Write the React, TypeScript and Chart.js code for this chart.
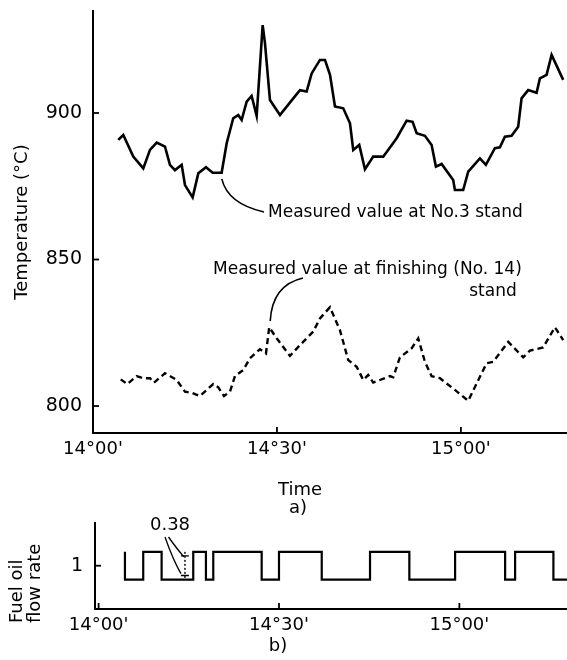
import React, { useEffect, useRef } from "react";
import { Chart, registerables } from "chart.js";
Chart.register(...registerables);

const FONT = '"DejaVu Sans", sans-serif';
const INK = "#000";

// Panel a) — minutes after 14:00 and temperatures (°C)
const stand3Times = [4.12, 4.94, 6.57, 8.2, 9.29, 10.39, 11.74, 12.55, 13.37, 14.46, 15.0, 16.25, 17.17, 18.42, 19.52, 20.98, 21.8, 22.87, 23.69, 24.24, 25.06, 25.87, 26.69, 27.67, 28.04, 28.86, 30.49, 32.66, 33.75, 34.84, 35.66, 37.01, 37.83, 38.65, 39.46, 40.81, 41.91, 42.44, 43.42, 44.35, 45.7, 47.33, 49.52, 51.15, 52.12, 52.78, 54.13, 55.22, 55.92, 56.85, 58.74, 59.02, 60.37, 61.19, 63.1, 64.07, 65.54, 66.36, 67.17, 68.26, 69.34, 69.89, 70.97, 72.34, 72.88, 73.97, 74.79, 76.68];
const stand3Temps = [890.8, 892.5, 885.1, 881.1, 887.4, 889.9, 888.5, 882.3, 880.5, 882.3, 875.4, 871.2, 879.4, 881.5, 879.6, 879.6, 889.7, 898.2, 899.3, 897.6, 903.9, 905.8, 899.0, 930.0, 923.9, 904.4, 899.3, 905.0, 907.8, 907.3, 913.5, 918.1, 918.1, 913.0, 902.2, 901.6, 896.5, 887.4, 889.1, 880.8, 885.1, 885.1, 891.4, 897.4, 897.0, 893.1, 892.2, 889.1, 881.7, 882.6, 877.1, 873.7, 873.7, 880.0, 884.5, 882.3, 888.0, 888.3, 891.9, 892.2, 895.3, 905.0, 907.8, 906.9, 911.8, 913.0, 919.8, 911.3];

const stand14Times = [4.52, 5.59, 7.12, 8.2, 9.29, 9.95, 11.74, 13.65, 15.0, 16.09, 17.45, 19.61, 20.43, 21.36, 22.34, 23.15, 24.51, 25.6, 27.23, 28.21, 28.74, 29.95, 32.12, 33.75, 35.92, 37.01, 38.64, 40.27, 41.62, 42.99, 44.07, 44.88, 45.7, 48.42, 48.96, 50.05, 51.96, 53.04, 54.13, 55.22, 56.58, 59.02, 61.19, 62.56, 64.19, 65.27, 67.72, 70.16, 71.25, 73.42, 75.33, 76.68];
const stand14Temps = [809.1, 807.5, 810.2, 809.5, 809.5, 808.0, 811.2, 808.9, 804.9, 804.5, 803.4, 807.5, 806.4, 803.4, 804.9, 810.2, 812.3, 816.3, 819.4, 818.0, 826.9, 823.1, 817.1, 820.8, 825.4, 829.9, 833.7, 825.9, 815.7, 813.4, 808.9, 810.6, 808.0, 810.2, 809.8, 816.6, 819.7, 823.1, 815.1, 810.2, 809.5, 805.5, 801.8, 807.7, 814.6, 815.1, 821.9, 816.6, 818.9, 820.0, 826.9, 822.5];

// Panel b) — fuel oil flow rate (step changes)
const flowTimes = [4.38, 4.38, 7.42, 10.48, 15.74, 17.85, 19.07, 27.12, 30.0, 37.11, 45.14, 51.68, 59.29, 67.61, 69.27, 75.64, 77.93];
const flowLevels = [1.19, 0.81, 1.19, 0.81, 1.19, 0.81, 1.19, 0.81, 1.19, 0.81, 1.19, 0.81, 1.19, 0.81, 1.19, 0.81, 0.81];

// Axis ticks
const timeTicks = [0, 30, 60];
const timeTickLabels = ["14°00'", "14°30'", "15°00'"];
const tempTicks = [800, 850, 900];
const flowTicks = [1];
const flowTickLabels = ["1"];

const zip = (xs: number[], ys: number[]) => xs.map((x, i) => ({ x, y: ys[i] }));

function inwardTicks(len: number) {
  return {
    id: "inwardTicks",
    afterDraw(chart: any) {
      const ctx = chart.ctx;
      const { bottom, left } = chart.chartArea;
      const xs = chart.scales.x;
      const ys = chart.scales.y;
      ctx.save();
      ctx.strokeStyle = INK;
      ctx.lineWidth = 1.8;
      xs.ticks.forEach((t: any) => {
        const p = xs.getPixelForValue(t.value);
        ctx.beginPath();
        ctx.moveTo(p, bottom);
        ctx.lineTo(p, bottom - len);
        ctx.stroke();
      });
      ys.ticks.forEach((t: any) => {
        const p = ys.getPixelForValue(t.value);
        ctx.beginPath();
        ctx.moveTo(left, p);
        ctx.lineTo(left + len, p);
        ctx.stroke();
      });
      ctx.restore();
    },
  };
}

const annotateA = {
  id: "annotateA",
  afterDraw(chart: any) {
    const ctx = chart.ctx;
    const xs = chart.scales.x;
    const ys = chart.scales.y;
    ctx.save();
    ctx.fillStyle = INK;
    ctx.strokeStyle = INK;
    ctx.lineWidth = 1.6;

    // leader 1 (No.3 stand)
    const a1x = xs.getPixelForValue(21.0);
    const a1y = ys.getPixelForValue(877.5);
    ctx.beginPath();
    ctx.moveTo(a1x, a1y);
    ctx.quadraticCurveTo(a1x + 6, a1y + 25, 264, 212);
    ctx.stroke();

    // leader 2 (No.14 stand)
    const a2x = xs.getPixelForValue(28.9);
    const a2y = ys.getPixelForValue(829);
    ctx.beginPath();
    ctx.moveTo(a2x, a2y);
    ctx.quadraticCurveTo(a2x + 2, 285, 303, 278);
    ctx.stroke();

    ctx.font = `17px ${FONT}`;
    ctx.textBaseline = "middle";
    ctx.textAlign = "left";
    ctx.fillText("Measured value at No.3 stand", 268, 213);
    ctx.fillText("Measured value at finishing (No. 14)", 213, 270);
    ctx.textAlign = "center";
    ctx.fillText("stand", 493, 292);

    ctx.font = `18px ${FONT}`;
    ctx.fillText("Time", 300, 490);
    ctx.fillText("a)", 298, 508);

    ctx.translate(22, 222);
    ctx.rotate(-Math.PI / 2);
    ctx.fillText("Temperature (°C)", 0, 0);
    ctx.restore();
  },
};

const annotateB = {
  id: "annotateB",
  afterDraw(chart: any) {
    const ctx = chart.ctx;
    const xs = chart.scales.x;
    const ys = chart.scales.y;
    ctx.save();
    ctx.fillStyle = INK;
    ctx.strokeStyle = INK;

    const dx = xs.getPixelForValue(14.36);
    const hiY = ys.getPixelForValue(1.19);
    const loY = ys.getPixelForValue(0.81);

    // dimension marker 0.38
    ctx.lineWidth = 1.4;
    ctx.setLineDash([2, 2]);
    ctx.beginPath();
    ctx.moveTo(dx, hiY);
    ctx.lineTo(dx, loY);
    ctx.stroke();
    ctx.setLineDash([]);
    ctx.beginPath();
    ctx.moveTo(dx - 4, hiY + 4);
    ctx.lineTo(dx + 4, hiY + 4);
    ctx.moveTo(dx - 4, loY - 4);
    ctx.lineTo(dx + 4, loY - 4);
    ctx.stroke();

    ctx.lineWidth = 1.3;
    ctx.beginPath();
    ctx.moveTo(165, 22);
    ctx.quadraticCurveTo(173, 45, dx - 4, loY - 6);
    ctx.stroke();
    ctx.beginPath();
    ctx.moveTo(168.5, 22);
    ctx.quadraticCurveTo(177, 34, dx - 1, hiY + 5);
    ctx.stroke();

    ctx.font = `18px ${FONT}`;
    ctx.textBaseline = "middle";
    ctx.textAlign = "center";
    ctx.fillText("0.38", 170, 10);
    ctx.fillText("b)", 278, 131);

    ctx.textAlign = "left";
    ctx.save();
    ctx.translate(17, 108);
    ctx.rotate(-Math.PI / 2);
    ctx.fillText("Fuel oil", 0, 0);
    ctx.restore();
    ctx.save();
    ctx.translate(35, 108);
    ctx.rotate(-Math.PI / 2);
    ctx.fillText("flow rate", 0, 0);
    ctx.restore();

    ctx.restore();
  },
};

function axisX(min: number, max: number, height: number, pad: number) {
  return {
    type: "linear" as const,
    min,
    max,
    afterBuildTicks: (s: any) => {
      s.ticks = timeTicks.map((v) => ({ value: v }));
    },
    afterFit: (s: any) => {
      s.height = height;
      s.paddingLeft = 0;
      s.paddingRight = 0;
    },
    ticks: {
      callback: (v: any) => timeTickLabels[timeTicks.indexOf(Number(v))],
      padding: pad,
      maxRotation: 0,
      autoSkip: false,
      color: INK,
      font: { family: FONT, size: 18 },
    },
    grid: { display: false, drawTicks: false },
    border: { display: true, color: INK, width: 2 },
  };
}

function axisY(min: number, max: number, width: number, vals: number[], labels: string[], pad: number) {
  return {
    type: "linear" as const,
    min,
    max,
    afterBuildTicks: (s: any) => {
      s.ticks = vals.map((v) => ({ value: v }));
    },
    afterFit: (s: any) => {
      s.width = width;
      s.paddingTop = 0;
      s.paddingBottom = 0;
    },
    ticks: {
      callback: (v: any) => labels[vals.indexOf(Number(v))],
      padding: pad,
      color: INK,
      font: { family: FONT, size: 19 },
    },
    grid: { display: false, drawTicks: false },
    border: { display: true, color: INK, width: 2 },
  };
}

export default function App() {
  const refA = useRef<HTMLCanvasElement>(null);
  const refB = useRef<HTMLCanvasElement>(null);

  useEffect(() => {
    const chartA = new Chart(refA.current as HTMLCanvasElement, {
      type: "line",
      data: {
        datasets: [
          {
            data: zip(stand3Times, stand3Temps),
            borderColor: INK,
            borderWidth: 2.6,
            pointRadius: 0,
            tension: 0,
            fill: false,
          },
          {
            data: zip(stand14Times, stand14Temps),
            borderColor: INK,
            borderWidth: 2.4,
            borderDash: [6, 4],
            pointRadius: 0,
            tension: 0,
            fill: false,
          },
        ],
      },
      options: {
        animation: false,
        responsive: false,
        layout: { padding: { top: 11, left: 0, right: 0, bottom: 0 } },
        plugins: { legend: { display: false }, tooltip: { enabled: false } },
        scales: {
          x: axisX(0, 77.3, 87, 6),
          y: axisY(790.8, 934.8, 93, tempTicks, tempTicks.map(String), 11),
        },
      } as any,
      plugins: [inwardTicks(6), annotateA],
    });

    const chartB = new Chart(refB.current as HTMLCanvasElement, {
      type: "line",
      data: {
        datasets: [
          {
            data: zip(flowTimes, flowLevels),
            borderColor: INK,
            borderWidth: 2.2,
            pointRadius: 0,
            stepped: "before",
            fill: false,
          },
        ],
      },
      options: {
        animation: false,
        responsive: false,
        layout: { padding: { top: 8, left: 0, right: 0, bottom: 0 } },
        plugins: { legend: { display: false }, tooltip: { enabled: false } },
        scales: {
          x: axisX(-0.6, 77.9, 51, 6),
          y: axisY(0.406, 1.586, 95, flowTicks, flowTickLabels, 12),
        },
      } as any,
      plugins: [inwardTicks(6), annotateB],
    });

    return () => {
      chartA.destroy();
      chartB.destroy();
    };
  }, []);

  return (
    <div style={{ position: "fixed", left: 0, top: 0, width: 567, height: 660, background: "#fff", overflow: "hidden" }}>
      <canvas ref={refA} width={567} height={520} style={{ position: "absolute", left: 0, top: 0, width: 567, height: 520 }} />
      <canvas ref={refB} width={567} height={145} style={{ position: "absolute", left: 0, top: 515, width: 567, height: 145 }} />
    </div>
  );
}
